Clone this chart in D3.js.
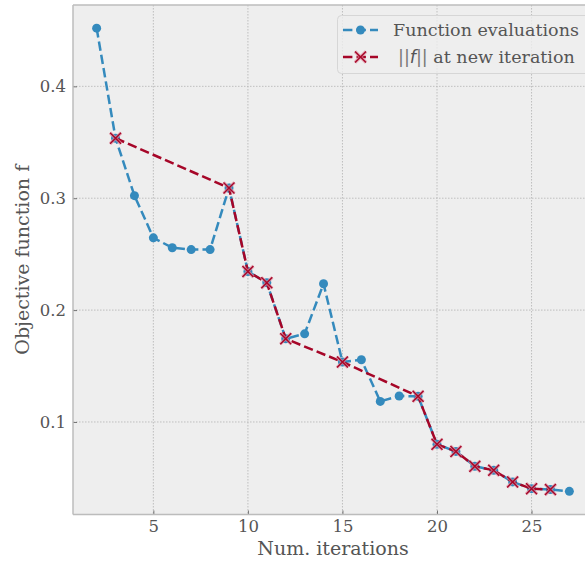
<!DOCTYPE html>
<html>
<head>
<meta charset="utf-8">
<script src="https://cdn.jsdelivr.net/npm/d3@7"></script>
<style>
  html, body { margin: 0; padding: 0; background: #ffffff; overflow: hidden; }
  svg { display: block; }
  text { font-family: "DejaVu Serif", serif; fill: #555555; }
</style>
</head>
<body>
<svg id="chart" width="585" height="562"></svg>
<script>
// Objective value at every function evaluation
const evalIters = [2, 3, 4, 5, 6, 7, 8, 9, 10, 11, 12, 13, 14, 15, 16, 17, 18, 19, 20, 21, 22, 23, 24, 25, 26, 27];
const evalValues = [0.452, 0.3536, 0.3023, 0.2646, 0.2557, 0.2541, 0.2541, 0.3092, 0.2345, 0.2244, 0.1744, 0.1788, 0.2235, 0.1536, 0.1556, 0.1184, 0.1232, 0.1229, 0.0800, 0.0737, 0.0604, 0.0568, 0.0464, 0.0404, 0.0396, 0.0380];

// Evaluations that were accepted as a new iteration
const acceptedIters = [3, 9, 10, 11, 12, 15, 19, 20, 21, 22, 23, 24, 25, 26];

const xTicks = [5, 10, 15, 20, 25];
const yTicks = [0.1, 0.2, 0.3, 0.4];

const seriesLabels = ["Function evaluations", "at new iteration"];
const axisLabels = { x: "Num. iterations", y: "Objective function f" };

const BLUE = "#348ABD";
const RED = "#A60628";
const LW = 2.5, DASH = "9.4,4.1";

const svg = d3.select("#chart");
const plot = { left: 73, top: 5, right: 593, bottom: 514.5 };

// Autoscale with 5% margins on each side
const xExt = d3.extent(evalIters), yExt = d3.extent(evalValues);
const xPad = (xExt[1] - xExt[0]) * 0.05, yPad = (yExt[1] - yExt[0]) * 0.05;
const x = d3.scaleLinear().domain([xExt[0] - xPad, xExt[1] + xPad]).range([plot.left, plot.right]);
const y = d3.scaleLinear().domain([yExt[0] - yPad, yExt[1] + yPad]).range([plot.bottom, plot.top]);

const evalPts = evalIters.map((it, i) => ({ it, v: evalValues[i] }));
const accPts = acceptedIters.map(it => evalPts.find(p => p.it === it));

// Axes background
svg.append("rect")
  .attr("x", plot.left).attr("y", plot.top)
  .attr("width", plot.right - plot.left).attr("height", plot.bottom - plot.top)
  .attr("fill", "#eeeeee");

// Grid
const grid = svg.append("g");
grid.selectAll("line.gx").data(xTicks).join("line")
  .attr("x1", d => x(d)).attr("x2", d => x(d))
  .attr("y1", plot.top).attr("y2", plot.bottom)
  .attr("stroke", "#b2b2b2").attr("stroke-width", 0.8).attr("stroke-dasharray", "1.5,1.5");
grid.selectAll("line.gy").data(yTicks).join("line")
  .attr("y1", d => y(d)).attr("y2", d => y(d))
  .attr("x1", plot.left).attr("x2", plot.right)
  .attr("stroke", "#b2b2b2").attr("stroke-width", 0.8).attr("stroke-dasharray", "1.5,1.5");

// Axes with inward ticks
const xAxis = svg.append("g").attr("transform", `translate(0,${plot.bottom})`)
  .call(d3.axisBottom(x).tickValues(xTicks).tickFormat(d3.format("d")).tickSizeInner(-4).tickSizeOuter(0).tickPadding(6));
const yAxis = svg.append("g").attr("transform", `translate(${plot.left},0)`)
  .call(d3.axisLeft(y).tickValues(yTicks).tickFormat(d3.format(".1f")).tickSizeInner(-4).tickSizeOuter(0).tickPadding(7));
[xAxis, yAxis].forEach(a => {
  a.select(".domain").remove();
  a.selectAll(".tick line").attr("stroke", "#555555").attr("stroke-width", 0.8);
  a.selectAll(".tick text").attr("font-size", 16.5).attr("fill", "#555555")
    .style("font-family", "'DejaVu Serif', serif");
});

// Spines
svg.append("line").attr("x1", plot.left).attr("x2", plot.left).attr("y1", plot.top).attr("y2", plot.bottom)
  .attr("stroke", "#bcbcbc").attr("stroke-width", 1.5);
svg.append("line").attr("x1", plot.left).attr("x2", plot.right).attr("y1", plot.bottom).attr("y2", plot.bottom)
  .attr("stroke", "#bcbcbc").attr("stroke-width", 1.5);
svg.append("line").attr("x1", plot.left).attr("x2", plot.right).attr("y1", plot.top).attr("y2", plot.top)
  .attr("stroke", "#bcbcbc").attr("stroke-width", 1.5);

// Axis labels
svg.append("text").attr("x", (plot.left + plot.right) / 2).attr("y", 555)
  .attr("text-anchor", "middle").attr("font-size", 19).text(axisLabels.x);
svg.append("text").attr("transform", `translate(29,${(plot.top + plot.bottom) / 2}) rotate(-90)`)
  .attr("text-anchor", "middle").attr("font-size", 19).text(axisLabels.y);

const line = d3.line().x(d => x(d.it)).y(d => y(d.v));

function drawX(g, cx, cy, s) {
  const p = `M${cx - s},${cy - s}L${cx + s},${cy + s}M${cx - s},${cy + s}L${cx + s},${cy - s}`;
  g.append("path").attr("d", p).attr("stroke", "#e08a9c").attr("stroke-width", 3.2).attr("stroke-opacity", 0.7).attr("fill", "none");
  g.append("path").attr("d", p).attr("stroke", RED).attr("stroke-width", 1.4).attr("fill", "none");
}

// Function evaluations series
svg.append("path").datum(evalPts).attr("d", line)
  .attr("fill", "none").attr("stroke", BLUE).attr("stroke-width", LW).attr("stroke-dasharray", DASH);
svg.append("g").selectAll("circle").data(evalPts).join("circle")
  .attr("cx", d => x(d.it)).attr("cy", d => y(d.v)).attr("r", 4.5).attr("fill", BLUE);

// Accepted iterations series
svg.append("path").datum(accPts).attr("d", line)
  .attr("fill", "none").attr("stroke", RED).attr("stroke-width", LW).attr("stroke-dasharray", DASH);
const accG = svg.append("g");
accPts.forEach(d => drawX(accG, x(d.it), y(d.v), 5.5));

// Legend
const lg = svg.append("g");
lg.append("rect").attr("x", 337.5).attr("y", 15.5).attr("width", 260).attr("height", 58).attr("rx", 4)
  .attr("fill", "#eeeeee").attr("fill-opacity", 0.8).attr("stroke", "#d6d6d6").attr("stroke-width", 1);
const lx0 = 343, lx1 = 378, ly1 = 30, ly2 = 57;
lg.append("line").attr("x1", lx0).attr("x2", lx1).attr("y1", ly1).attr("y2", ly1)
  .attr("stroke", BLUE).attr("stroke-width", LW).attr("stroke-dasharray", DASH);
lg.append("circle").attr("cx", (lx0 + lx1) / 2).attr("cy", ly1).attr("r", 4.5).attr("fill", BLUE);
lg.append("line").attr("x1", lx0).attr("x2", lx1).attr("y1", ly2).attr("y2", ly2)
  .attr("stroke", RED).attr("stroke-width", LW).attr("stroke-dasharray", DASH);
drawX(lg, (lx0 + lx1) / 2, ly2, 5.5);

lg.append("text").attr("x", 393).attr("y", ly1 + 6).attr("font-size", 17.5).attr("fill", "#333333").text(seriesLabels[0]);
const t2 = lg.append("text").attr("x", 398).attr("y", ly2 + 6).attr("font-size", 17.5).attr("fill", "#333333");
t2.append("tspan").style("font-family", "'DejaVu Sans', sans-serif").attr("fill", "#777777").text("||");
t2.append("tspan").style("font-family", "'DejaVu Sans', sans-serif").style("font-style", "italic").text("f");
t2.append("tspan").style("font-family", "'DejaVu Sans', sans-serif").attr("fill", "#777777").text("||");
t2.append("tspan").text(" " + seriesLabels[1]);
</script>
</body>
</html>
